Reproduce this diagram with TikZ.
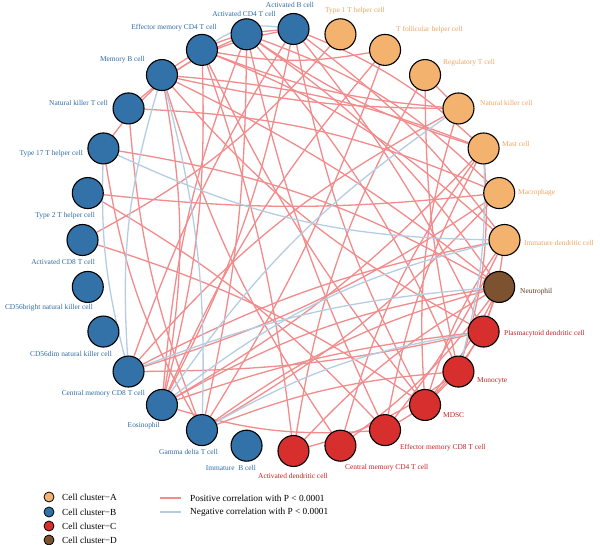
\documentclass[tikz,border=0pt]{standalone}
\usepackage{fontspec}
\setmainfont{Liberation Serif}
\pgfdeclarelayer{bg}
\pgfsetlayers{bg,main}
\definecolor{cA}{HTML}{F4B26F}
\definecolor{cB}{HTML}{3272A8}
\definecolor{cC}{HTML}{D62F2E}
\definecolor{cD}{HTML}{7D5230}
\definecolor{tA}{HTML}{EFA45E}
\definecolor{tB}{HTML}{2C6BA3}
\definecolor{tC}{HTML}{C41F1F}
\definecolor{tD}{HTML}{5A3A1E}
\definecolor{poscol}{HTML}{F28B8B}
\definecolor{negcol}{HTML}{B4CDE2}
\begin{document}
\begin{tikzpicture}[x=1pt,y=-1pt,
  cell/.style={circle,draw=black,line width=1.1pt,minimum size=31pt,inner sep=0pt},
  lab/.style={font=\fontsize{7.4}{8}\selectfont,inner sep=0pt},
  poscor/.style={draw=poscol,line width=1.3pt},
  negcor/.style={draw=negcol,line width=1.3pt},
  legdot/.style={circle,draw=black,line width=0.8pt,minimum size=10pt,inner sep=0pt},
  legtext/.style={font=\fontsize{9.3}{11}\selectfont,anchor=west,inner sep=0pt}]
\useasboundingbox (0,0) rectangle (600,545);
\begin{scope}[shift={(293.5,240)}]
\foreach \i/\c in {0/cB,1/cB,2/cB,3/cB,4/cB,5/cB,6/cB,7/cB,8/cB,9/cB,10/cB,11/cB,12/cB,13/cB,
  14/cC,15/cC,16/cC,17/cC,18/cC,19/cC,20/cD,21/cA,22/cA,23/cA,24/cA,25/cA,26/cA,27/cA}
  \node[cell,fill=\c] (n\i) at ({-90-\i*12.857}:211) {};
\end{scope}
% labels
\node[lab,text=tB] (l0) at (290,5) {Activated B cell};
\node[lab,text=tB] (l1) at (244,14) {Activated CD4 T cell};
\node[lab,text=tB,anchor=east] (l2) at (217,28) {Effector memory CD4 T cell};
\node[lab,text=tB,anchor=east] (l3) at (145,60) {Memory B cell};
\node[lab,text=tB,anchor=east] (l4) at (108,103) {Natural killer T cell};
\node[lab,text=tB,anchor=east] (l5) at (83,154) {Type 17 T helper cell};
\node[lab,text=tB,anchor=east] (l6) at (95,216) {Type 2 T helper cell};
\node[lab,text=tB,anchor=east] (l7) at (95,262) {Activated CD8 T cell};
\node[lab,text=tB,anchor=east] (l8) at (93,308) {CD56bright natural killer cell};
\node[lab,text=tB,anchor=east] (l9) at (112,354) {CD56dim natural killer cell};
\node[lab,text=tB,anchor=east] (l10) at (145,394) {Central memory CD8 T cell};
\node[lab,text=tB,anchor=east] (l11) at (160,426) {Eosinophil};
\node[lab,text=tB,anchor=east] (l12) at (218,452) {Gamma delta T cell};
\node[lab,text=tB,anchor=east] (l13) at (256,468) {Immature\ \ B cell};
\node[lab,text=tC,anchor=west] (l14) at (258,476) {Activated dendritic cell};
\node[lab,text=tC,anchor=west] (l15) at (345,468) {Central memory CD4 T cell};
\node[lab,text=tC,anchor=west] (l16) at (400,448) {Effector memory CD8 T cell};
\node[lab,text=tC,anchor=west] (l17) at (443,415) {MDSC};
\node[lab,text=tC,anchor=west] (l18) at (477,381) {Monocyte};
\node[lab,text=tC,anchor=west] (l19) at (504,334) {Plasmacytoid dendritic cell};
\node[lab,text=tD,anchor=west] (l20) at (520,292) {Neutrophil};
\node[lab,text=tA,anchor=west] (l21) at (524,243) {Immature dendritic cell};
\node[lab,text=tA,anchor=west] (l22) at (518,193) {Macrophage};
\node[lab,text=tA,anchor=west] (l23) at (502,144) {Mast cell};
\node[lab,text=tA,anchor=west] (l24) at (480,103) {Natural killer cell};
\node[lab,text=tA,anchor=west] (l25) at (443,63) {Regulatory T cell};
\node[lab,text=tA,anchor=west] (l26) at (396,30) {T follicular helper cell};
\node[lab,text=tA,anchor=west] (l27) at (325,11) {Type 1 T helper cell};
% edges
\begin{pgfonlayer}{bg}
\foreach \a/\b/\bd in {0/23/10,0/21/8,0/19/6,0/17/-8,0/11/8,0/10/-6,0/4/-15,0/3/-15,
  1/23/-8,1/20/10,1/18/8,1/16/-6,1/12/6,1/11/-8,1/5/-15,1/22/12,
  2/26/-10,2/24/-8,2/21/10,2/17/-6,2/14/6,2/11/8,
  3/24/-6,3/23/8,3/20/6,3/19/-10,3/11/10,3/15/-8,
  4/22/10,4/12/-8,5/20/10,5/12/-10,6/22/-6,6/16/8,7/27/-10,7/17/8,
  10/22/-8,10/21/8,10/19/-6,10/24/10,
  11/23/-8,11/20/10,11/19/6,11/16/-10,11/26/8,
  12/26/-6,12/22/-8,12/20/10,12/18/8,
  14/18/-10,14/20/8,14/25/10,15/20/-8,15/23/10,
  16/18/-8,16/23/8,16/21/-6,
  17/19/-4,17/20/-5,17/21/8,17/24/10,
  18/20/-5,18/23/-10,18/25/6,
  19/21/-5,24/25/0}
  \draw[poscor] (n\a) to[bend left=\bd] (n\b);
\foreach \a/\b/\bd in {0/2/-20,3/10/-10,3/12/8,5/21/-12,5/10/-8,11/24/10,11/21/12,12/19/10,10/20/8,18/23/-8}
  \draw[negcor] (n\a) to[bend left=\bd] (n\b);
\end{pgfonlayer}
% legend
\node[legdot,fill=cA] (g1) at (49,497) {};
\node[legdot,fill=cB] (g2) at (49,512) {};
\node[legdot,fill=cC] (g3) at (49,526) {};
\node[legdot,fill=cD] (g4) at (49,540) {};
\node[legtext] (t1) at (62,497) {Cell cluster−A};
\node[legtext] (t2) at (62,512) {Cell cluster−B};
\node[legtext] (t3) at (62,526) {Cell cluster−C};
\node[legtext] (t4) at (62,540) {Cell cluster−D};
\coordinate (p1) at (160,498);
\coordinate (p2) at (181,498);
\coordinate (q1) at (160,512);
\coordinate (q2) at (181,512);
\draw[poscor] (p1) -- (p2);
\draw[negcor] (q1) -- (q2);
\node[legtext] (t5) at (190,498) {Positive correlation with P < 0.0001};
\node[legtext] (t6) at (190,512) {Negative correlation with P < 0.0001};
\end{tikzpicture}
\end{document}
